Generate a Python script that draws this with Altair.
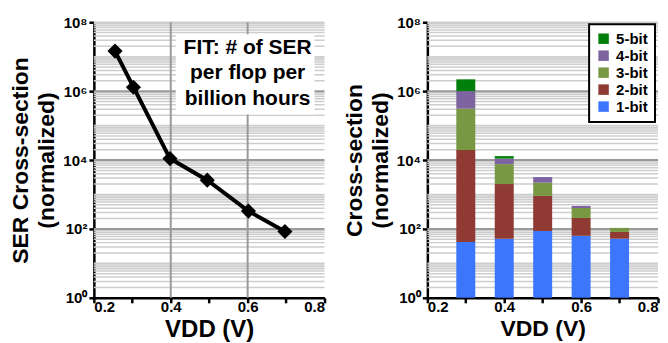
import altair as alt
import pandas as pd

# ---- data ----
vdd_line = [0.255, 0.303, 0.398, 0.495, 0.602, 0.697]
ser_line = [1.45e7, 1.3e6, 1.1e4, 2.6e3, 330, 84]

vdd_bar = [0.3, 0.4, 0.5, 0.6, 0.7]
bit_labels = ["1-bit", "2-bit", "3-bit", "4-bit", "5-bit"]
# cumulative tops of each stacked segment
cum_1bit = [42, 52, 87, 63, 52]
cum_2bit = [1.95e4, 2.0e3, 910, 208, 82]
cum_3bit = [3.1e5, 7.6e3, 2.2e3, 405, 107]
cum_4bit = [1.0e6, 1.1e4, 3.2e3, 465, 107]
cum_5bit = [2.2e6, 1.3e4, 3.2e3, 465, 107]
bit_colors = ["#3b76fd", "#8f3a33", "#789843", "#7d64a0", "#00800a"]

y_ticks = [1, 1e2, 1e4, 1e6, 1e8]
x_ticks = [0.2, 0.3, 0.4, 0.5, 0.6, 0.7, 0.8]
major_grid = [1e2, 1e4, 1e6]
minor_grid = [k * 10 ** n for n in range(8) for k in range(1, 10)
              if not (k == 1 and n % 2 == 0)] + [1e8]
vgrid_left = [0.4, 0.6]

note_lines = ["FIT: # of SER", "per flop per", "billion hours"]
note_x, note_y = 0.60, 1.8e7
box_x, box_x2, box_y, box_y2 = 0.413, 0.774, 2.1e5, 4.5e7

# ---- tables ----
df_line = pd.DataFrame({"vdd": vdd_line, "ser": ser_line})
cums = [cum_1bit, cum_2bit, cum_3bit, cum_4bit, cum_5bit]
rows = []
for i, v in enumerate(vdd_bar):
    prev = 1.0
    for b, lab in enumerate(bit_labels):
        top = cums[b][i]
        if top > prev:
            rows.append({"vdd": v, "bit": lab, "lo": prev, "hi": top})
        prev = max(prev, top)
df_bar = pd.DataFrame(rows)
df_minor = pd.DataFrame({"v": minor_grid})
df_major = pd.DataFrame({"v": major_grid})
df_vgrid = pd.DataFrame({"x": vgrid_left})
df_box = pd.DataFrame({"x": [box_x], "x2": [box_x2], "y": [box_y], "y2": [box_y2]})
df_note = pd.DataFrame({"x": [note_x], "y": [note_y]})

FONT = "Liberation Sans"
W, H = 231, 276

xscale = alt.Scale(domain=[0.2, 0.8], nice=False, zero=False, padding=0)
yscale = alt.Scale(type="log", domain=[1, 1e8], nice=False, padding=0)

label_y = ("'10' + (datum.value < 10 ? '⁰' : datum.value < 1000 ? '²' : "
           "datum.value < 1e5 ? '⁴' : datum.value < 1e7 ? '⁶' : '⁸')")
label_x = "(round(datum.value*10) % 2 == 0) ? format(datum.value, '.1f') : ''"


def xaxis(title_size):
    return alt.Axis(values=x_ticks, labelExpr=label_x, title="VDD (V)",
                    titleFontSize=title_size, titlePadding=3, labelPadding=-3,
                    grid=False)


def yaxis(title):
    return alt.Axis(values=y_ticks, labelExpr=label_y, title=title,
                    grid=False, titleLineHeight=26)


def grid_layers(y_axis, x_axis):
    minor = alt.Chart(df_minor).mark_rule(color="#cdcdcd", strokeWidth=1.5).encode(
        y=alt.Y("v:Q", scale=yscale, axis=y_axis))
    major = alt.Chart(df_major).mark_rule(color="#9a9a9a", strokeWidth=2).encode(
        y=alt.Y("v:Q", scale=yscale, axis=y_axis))
    return [minor, major]


# ---- left chart ----
yl = yaxis(["SER Cross-section", "(normalized)"])
xl = xaxis(24)
vgrid = alt.Chart(df_vgrid).mark_rule(color="#9a9a9a", strokeWidth=2).encode(
    x=alt.X("x:Q", scale=xscale, axis=xl))
box = alt.Chart(df_box).mark_rect(fill="white").encode(
    x=alt.X("x:Q", scale=xscale, axis=xl), x2="x2",
    y=alt.Y("y:Q", scale=yscale, axis=yl), y2="y2")
line = alt.Chart(df_line).mark_line(color="black", strokeWidth=4).encode(
    x=alt.X("vdd:Q", scale=xscale, axis=xl),
    y=alt.Y("ser:Q", scale=yscale, axis=yl))
pts = alt.Chart(df_line).mark_point(shape="diamond", filled=True, color="black",
                                    size=230, opacity=1).encode(
    x=alt.X("vdd:Q", scale=xscale, axis=xl),
    y=alt.Y("ser:Q", scale=yscale, axis=yl))
note = alt.Chart(df_note).mark_text(font=FONT, fontSize=21, fontWeight="bold",
                                    lineHeight=25.5, align="center",
                                    baseline="middle", color="black").encode(
    x=alt.X("x:Q", scale=xscale, axis=xl),
    y=alt.Y("y:Q", scale=yscale, axis=yl),
    text=alt.value(note_lines))
left = alt.layer(*grid_layers(yl, xl), vgrid, box, line, pts, note).properties(
    width=W, height=H)

# ---- right chart ----
yr = yaxis(["Cross-section", "(normalized)"])
xr = xaxis(23)
bars = alt.Chart(df_bar).mark_bar(size=19).encode(
    x=alt.X("vdd:Q", scale=xscale, axis=xr),
    y=alt.Y("lo:Q", scale=yscale, axis=yr, stack=None),
    y2="hi:Q",
    color=alt.Color("bit:N",
                    scale=alt.Scale(domain=bit_labels[::-1], range=bit_colors[::-1]),
                    legend=alt.Legend(title=None, orient="none", legendX=496,
                                      legendY=2, symbolType="square",
                                      symbolSize=110, symbolStrokeWidth=0,
                                      labelFont=FONT, labelFontSize=15,
                                      labelFontWeight="bold", labelColor="black",
                                      fillColor="white", strokeColor="black",
                                      padding=7, rowPadding=1,
                                      labelOffset=5)))
right = alt.layer(*grid_layers(yr, xr), bars).properties(width=W, height=H)

chart = alt.hconcat(left, right, spacing=16).properties(
    padding={"left": 1, "top": 7, "right": 0, "bottom": 0}
).configure_view(stroke=None).configure_axis(
    domainColor="black", domainWidth=2.5, tickColor="black", tickWidth=2.5,
    tickSize=5, labelFont=FONT, labelFontSize=15, labelFontWeight="bold",
    labelColor="black", labelPadding=2, titleFont=FONT, titleFontSize=23,
    titleFontWeight="bold", titleColor="black"
).configure_legend(strokeWidth=2)

chart.save("out.html", embed_options={"renderer": "svg", "actions": False})
